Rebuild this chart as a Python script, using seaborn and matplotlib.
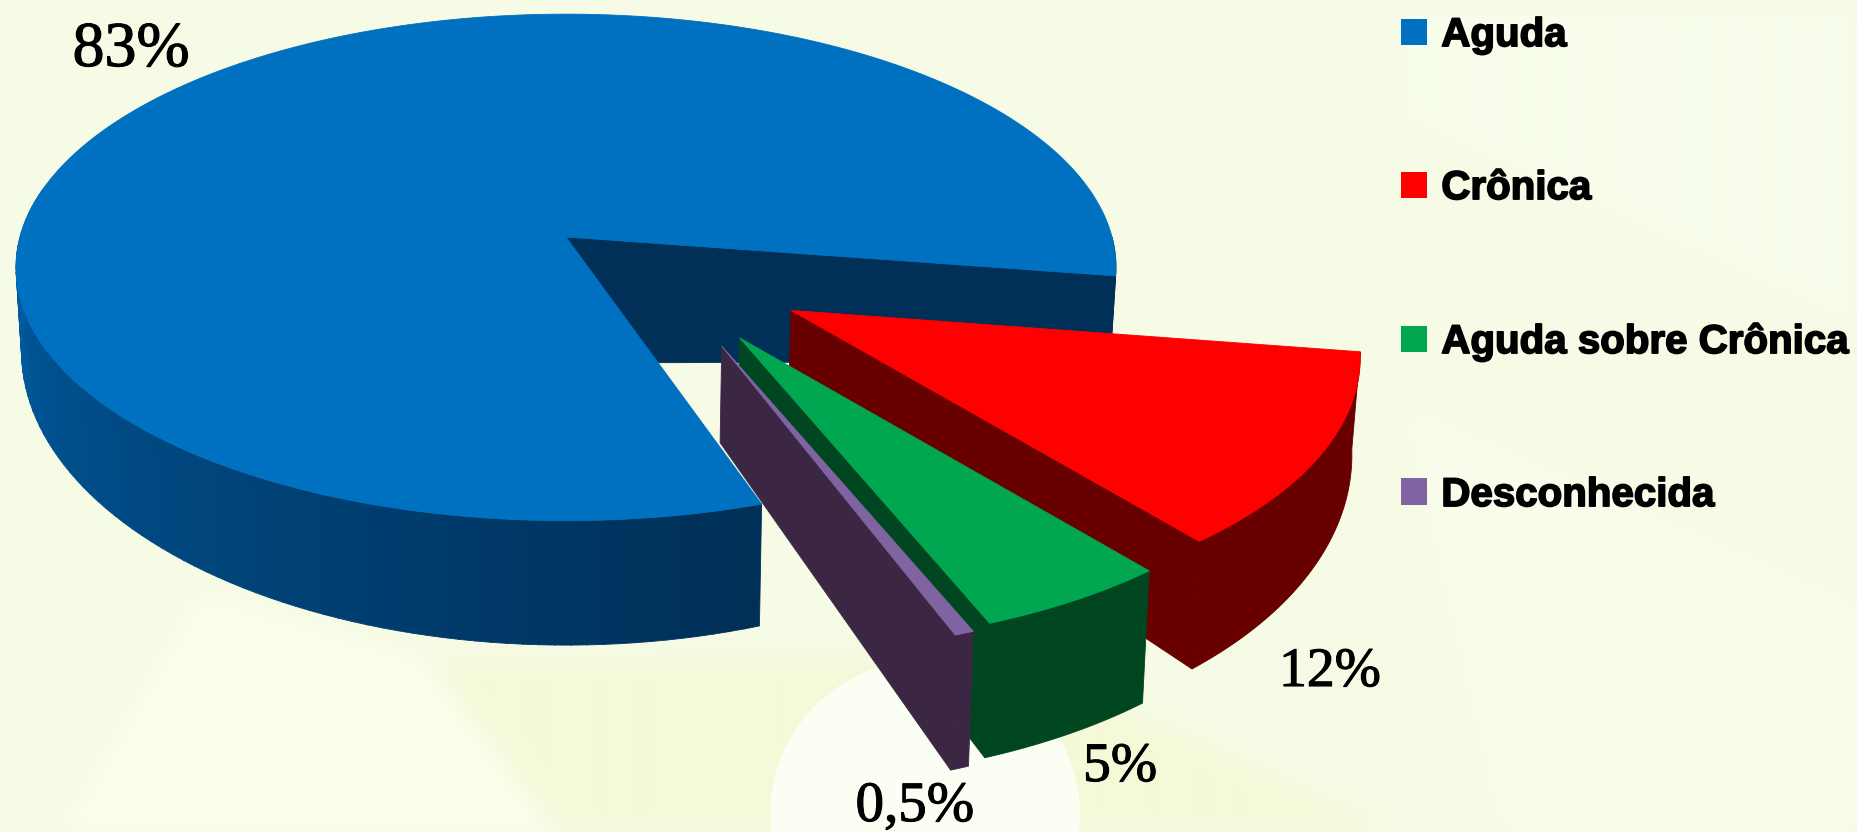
import numpy as np
import matplotlib
matplotlib.use("Agg")
import matplotlib.pyplot as plt
import matplotlib.patheffects as pe
from matplotlib.patches import Patch, Ellipse
from matplotlib.path import Path
from matplotlib.colors import to_rgb
import seaborn as sns

categories = ["Aguda", "Crônica", "Aguda sobre Crônica", "Desconhecida"]
values = [83, 12, 5, 0.5]
top_colors = ["#0070c0", "#ff0000", "#00a650", "#8064a2"]
side_colors = ["#002f57", "#680000", "#004620", "#3b2644"]

sns.set_theme(style="white")
sns.set_palette(top_colors)

# Projection of the disc onto the canvas, in pixels
CX, CY, A, B, DEPTH = 566.0, 237.0, 546.0, 249.6, 80.0
PERSP, DEPTH_PERSP, DEPTH_GROWTH, GROWTH_LIMIT = 0.12, 0.01, 0.42, 1.15


def project(x, y, z=0.0):
    y = np.asarray(y)
    w = 1 - PERSP * y + DEPTH_PERSP * z
    thickness = DEPTH * (1 + DEPTH_GROWTH * np.minimum(y, GROWTH_LIMIT))
    return CX + A * np.asarray(x) / w, CY + (B * y + thickness * z) / w


# Slice layout: offset of each pulled-out slice, its radius and a small angular shift
offsets = {"Aguda": (0.0, 0.0), "Crônica": (0.398, 0.284),
           "Aguda sobre Crônica": (0.303, 0.385), "Desconhecida": (0.271, 0.415)}
radii = {"Aguda": 1.0, "Crônica": 0.992, "Aguda sobre Crônica": 0.985, "Desconhecida": 0.98}
nudges = {"Aguda": 0.0, "Crônica": 0.0, "Aguda sobre Crônica": -0.6, "Desconhecida": -1.0}
START_ANGLE = 8.8

fig = plt.figure(figsize=(18.58, 8.32), dpi=100)
ax = fig.add_axes([0, 0, 1, 1])
ax.axis("off")


def soft_backdrop():
    """Pale backdrop with a few blurred tinted shapes and one crisp glow."""
    step = 4
    gx, gy = np.meshgrid(np.arange(0, 1858, step), np.arange(0, 832, step))
    pts = np.c_[gx.ravel(), gy.ravel()]
    canvas = np.ones(gx.shape + (3,)) * np.array(to_rgb("#f6fbe6"))
    kernel = np.ones(9) / 9.0
    shapes = [
        ([(60, 832), (200, 590), (430, 660), (560, 832)], "#fbffec"),
        ([(430, 660), (1000, 650), (1400, 832), (560, 832)], "#f5f9d8"),
        ([(1400, 0), (1858, 0), (1858, 330), (1400, 120)], "#f8fdec"),
        ([(1400, 400), (1858, 600), (1858, 832), (1500, 832)], "#f9fdeb"),
    ]
    for verts, color in shapes:
        mask = Path(verts).contains_points(pts).reshape(gx.shape).astype(float)
        mask = np.apply_along_axis(lambda r: np.convolve(r, kernel, mode="same"), 0, mask)
        mask = np.apply_along_axis(lambda r: np.convolve(r, kernel, mode="same"), 1, mask)
        canvas = canvas * (1 - mask[..., None]) + np.array(to_rgb(color)) * mask[..., None]
    ax.imshow(canvas, extent=(0, 1858, 832, 0), aspect="auto", zorder=0, interpolation="bilinear")
    ax.add_patch(Ellipse((925, 815), 310, 310, fc="#fbfff3", ec="none", zorder=0.5))


soft_backdrop()
ax.set_xlim(0, 1858)
ax.set_ylim(832, 0)

sweeps = np.array(values) / sum(values) * 360.0
starts = START_ANGLE + np.concatenate([[0], np.cumsum(sweeps[1:])])
ends = starts + sweeps[[1, 2, 3, 0]]
order = categories[1:] + categories[:1]
spans = {n: (s + nudges[n], e + nudges[n]) for n, s, e in zip(order, starts, ends)}


def fill(xs, ys, color, zorder):
    ax.fill(xs, ys, color=color, lw=0.6, zorder=zorder)


def arc(name, t0, t1, z=0.0):
    ox, oy = offsets[name]
    r = radii[name]
    t = np.radians(np.linspace(t0, t1, max(int(abs(t1 - t0) * 2), 8)))
    return project(ox + r * np.cos(t), oy + r * np.sin(t), z)


def draw_flat(name, color, zorder, side_at, apex_depth=1.0):
    """Radial side face of a wedge at the given angle."""
    ox, oy = offsets[name]
    r = radii[name]
    rad = np.radians(side_at)
    ex, ey = ox + r * np.cos(rad), oy + r * np.sin(rad)
    top = project(np.array([ox, ex]), np.array([oy, ey]))
    outer = project(ex, ey, 1.0)
    inner = project(ox, oy, apex_depth)
    fill(list(top[0]) + [outer[0], inner[0]], list(top[1]) + [outer[1], inner[1]], color, zorder)


def wall_color(base_light, base_dark, frac):
    lo, hi = np.array(to_rgb(base_dark)), np.array(to_rgb(base_light))
    return tuple(lo + (hi - lo) * frac)


# Main slice: inner face, shaded rim, then the top
name = "Aguda"
t0, t1 = spans[name]
draw_flat(name, side_colors[0], 1, t1, apex_depth=1.6)
for a in np.arange(t0, 190, 1.5):
    xt, yt = arc(name, a, a + 1.6)
    xb, yb = arc(name, a, a + 1.6, 1.0)
    frac = np.clip((190 - a) / (190 - t0), 0, 1)
    fill(np.r_[xt, xb[::-1]], np.r_[yt, yb[::-1]], wall_color("#002f57", "#0063ad", frac ** 0.9), 1.2)
xt, yt = arc(name, 360, t1)
xb, yb = arc(name, 360, t1, 1.0)
fill(np.r_[xt, xb[::-1]], np.r_[yt, yb[::-1]], side_colors[0], 1.1)
xt, yt = arc(name, t0, t1)
ax_x, ax_y = project(0.0, 0.0)
fill(np.r_[ax_x, xt], np.r_[ax_y, yt], top_colors[0], 1.5)

# Pulled-out slices, drawn back to front
for i, name in enumerate(categories[1:], start=1):
    t0, t1 = spans[name]
    z = 2 + i
    draw_flat(name, side_colors[i], z, t1)
    xt, yt = arc(name, t0, t1)
    xb, yb = arc(name, t0, t1, 1.0)
    fill(np.r_[xt, xb[::-1]], np.r_[yt, yb[::-1]], side_colors[i], z + 0.1)
    ax_x, ax_y = project(*offsets[name])
    fill(np.r_[ax_x, xt], np.r_[ax_y, yt], top_colors[i], z + 0.2)

# Value labels
thicken = [pe.withStroke(linewidth=0.8, foreground="black")]
label_pos = [(131, 51), (1330, 672), (1120, 767), (915, 807)]
label_size = [46, 40, 40, 41]
for v, (lx, ly), s in zip(values, label_pos, label_size):
    ax.text(lx, ly, f"{v:g}".replace(".", ",") + "%", family="Liberation Serif",
            fontsize=s, color="black", ha="center", va="center", zorder=20,
            path_effects=thicken)

# Legend
handles = [Patch(fc=c, ec="none", label=n) for c, n in zip(top_colors, categories)]
legend = ax.legend(handles=handles, loc="upper left", bbox_to_anchor=(0.7455, 1.0),
                   frameon=False, handlelength=0.65, handleheight=0.65, handletextpad=0.345,
                   labelspacing=2.855, borderaxespad=0.0, borderpad=0.4,
                   prop={"family": "Liberation Sans", "weight": "bold", "size": 29})
legend.set_zorder(20)
for text in legend.get_texts():
    text.set_color("black")
    text.set_path_effects([pe.withStroke(linewidth=1.2, foreground="black")])

fig.savefig("out.png", dpi=100)
